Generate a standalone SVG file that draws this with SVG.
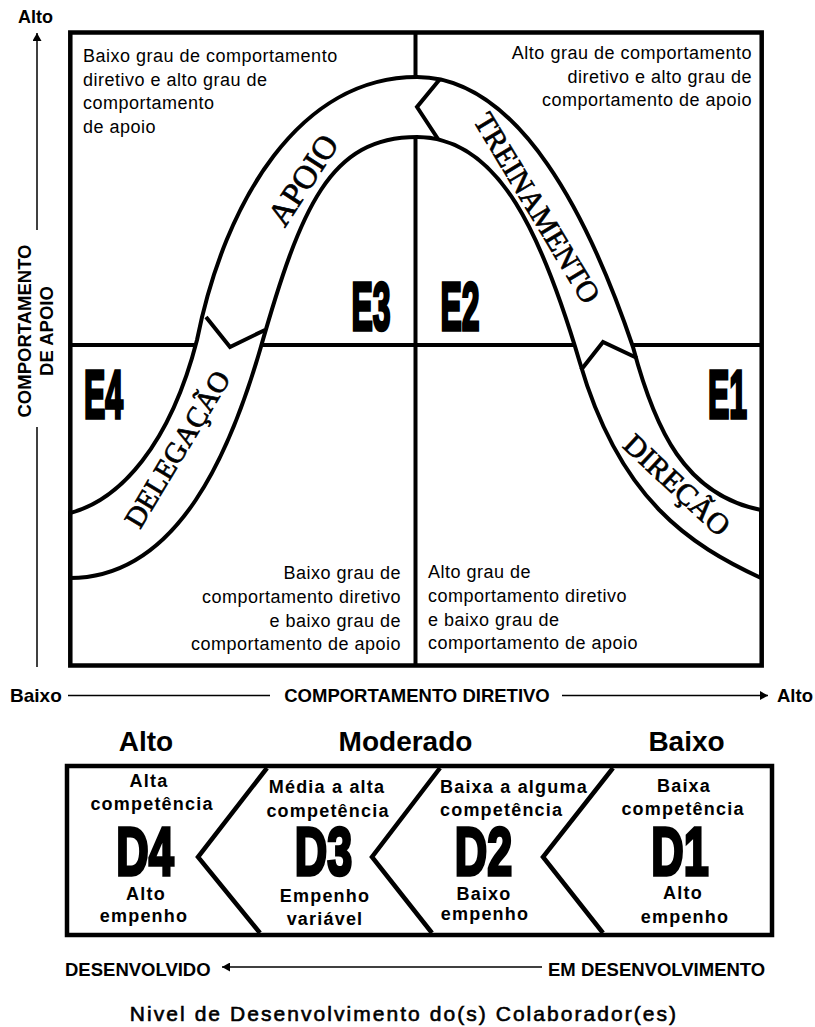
<svg xmlns="http://www.w3.org/2000/svg" width="815" height="1027" viewBox="0 0 815 1027">
<style>
.q{font-family:"Liberation Sans",Arial,sans-serif;font-size:18px;letter-spacing:0.5px;fill:#000}
.bt{font-family:"Liberation Serif","Times New Roman",serif;font-size:30px;fill:#000;stroke:#000;stroke-width:0.7}
.big{font-family:"Liberation Sans",Arial,sans-serif;font-weight:bold;font-size:68px;fill:#000;stroke:#000;stroke-width:3.5;stroke-linejoin:miter}
.ax{font-family:"Liberation Sans",Arial,sans-serif;font-weight:bold;font-size:18.5px;fill:#000}
.bx{font-family:"Liberation Sans",Arial,sans-serif;font-weight:bold;font-size:18px;letter-spacing:1.2px;fill:#000}
.lv{font-family:"Liberation Sans",Arial,sans-serif;font-weight:bold;font-size:28px;fill:#000}
.ti{font-family:"Liberation Sans",Arial,sans-serif;font-size:21px;letter-spacing:2.05px;fill:#000;stroke:#000;stroke-width:0.6}
.thick{fill:none;stroke:#000;stroke-width:4.5}
.mid{fill:none;stroke:#000;stroke-width:4}
.thin{fill:none;stroke:#000;stroke-width:1.5}
</style>
<defs>
<marker id="ah" markerUnits="userSpaceOnUse" markerWidth="9" markerHeight="9" refX="8" refY="4.5" orient="auto">
<path d="M0,0 L8,4.5 L0,9 Z" fill="#000"/>
</marker>
</defs>
<rect width="815" height="1027" fill="#fff"/>

<g id="quadrant-lines">
<line class="mid" x1="415.5" y1="32" x2="415.5" y2="665"/>
<line class="mid" x1="70" y1="345" x2="762" y2="345"/>
</g>

<g id="quadrant-texts">
<g id="q-top-left">
<text class="q" x="83" y="62">Baixo grau de comportamento</text>
<text class="q" x="83" y="86">diretivo e alto grau de</text>
<text class="q" x="83" y="109">comportamento</text>
<text class="q" x="83" y="133">de apoio</text>
</g>
<g id="q-top-right" text-anchor="end">
<text class="q" x="752" y="59">Alto grau de comportamento</text>
<text class="q" x="752" y="83">diretivo e alto grau de</text>
<text class="q" x="752" y="106">comportamento de apoio</text>
</g>
<g id="q-bottom-left" text-anchor="end">
<text class="q" x="401" y="579">Baixo grau de</text>
<text class="q" x="401" y="603">comportamento diretivo</text>
<text class="q" x="401" y="627">e baixo grau de</text>
<text class="q" x="401" y="650">comportamento de apoio</text>
</g>
<g id="q-bottom-right">
<text class="q" x="428" y="578">Alto grau de</text>
<text class="q" x="428" y="602">comportamento diretivo</text>
<text class="q" x="428" y="626">e baixo grau de</text>
<text class="q" x="428" y="649">comportamento de apoio</text>
</g>
</g>

<g id="curve-band">
<path d="M70,513 C120,500 170,445 197,340 C225,200 300,77 417,77 C520,77 590,220 633,347 C655,430 685,495 761,510 L761,578 C690,545 620,500 580,363 C543,238 500,137 417,137 C330,137 301,206 260,350 C232,446 180,578 70,578 Z" fill="#fff" stroke="#000" stroke-width="4"/>
<polyline class="mid" points="440,79 417,107 438,139"/>
<polyline class="mid" points="206,317 230,347 265,330"/>
<polyline class="mid" points="581,370 603,342 637,358"/>
<text class="bt" style="font-size:33px" transform="translate(303,180) rotate(-57)" text-anchor="middle" y="11">APOIO</text>
<text class="bt" transform="translate(537,208) rotate(59)" text-anchor="middle" y="10">TREINAMENTO</text>
<text class="bt" transform="translate(677,485) rotate(43)" text-anchor="middle" y="10">DIREÇÃO</text>
<text class="bt" style="font-size:29px" transform="translate(177,449) rotate(-59)" text-anchor="middle" y="10">DELEGAÇÃO</text>
</g>

<g id="style-labels">
<text class="big" transform="translate(371,330.3) scale(0.47,1)" text-anchor="middle">E3</text>
<text class="big" transform="translate(460,330.3) scale(0.47,1)" text-anchor="middle">E2</text>
<text class="big" transform="translate(103.5,418.3) scale(0.47,1)" text-anchor="middle">E4</text>
<text class="big" transform="translate(727.5,418.3) scale(0.47,1)" text-anchor="middle">E1</text>
</g>

<rect id="main-frame" class="thick" x="70.3" y="32.5" width="691.4" height="633"/>

<g id="connectors">
<line class="thin" x1="37" y1="230" x2="37" y2="33" marker-end="url(#ah)"/>
<line class="thin" x1="37" y1="427" x2="37" y2="667"/>
<line class="thin" x1="68" y1="695.5" x2="270" y2="695.5"/>
<line class="thin" x1="562" y1="695.5" x2="768" y2="695.5" marker-end="url(#ah)"/>
<line class="thin" x1="542" y1="967" x2="222" y2="967" marker-end="url(#ah)"/>
</g>

<g id="axis-labels">
<text class="ax" x="35.5" y="22.5" text-anchor="middle" style="font-size:18px">Alto</text>
<text class="ax" transform="translate(30.5,331) rotate(-90)" text-anchor="middle">COMPORTAMENTO</text>
<text class="ax" transform="translate(53,331) rotate(-90)" text-anchor="middle">DE APOIO</text>
<text class="ax" x="10" y="702" style="font-size:19px">Baixo</text>
<text class="ax" x="417" y="702" text-anchor="middle">COMPORTAMENTO DIRETIVO</text>
<text class="ax" x="777" y="702">Alto</text>
</g>

<g id="levels">
<text class="lv" x="146" y="751" text-anchor="middle">Alto</text>
<text class="lv" x="405.5" y="751" text-anchor="middle">Moderado</text>
<text class="lv" x="686.5" y="751" text-anchor="middle">Baixo</text>
</g>

<g id="dev-box">
<rect class="thick" x="67" y="766" width="705" height="169"/>
<polyline class="thick" points="267,768 198,857 260,933"/>
<polyline class="thick" points="440,768 372,857 432,933"/>
<polyline class="thick" points="613,768 543,857 603,933"/>
</g>

<g id="D4" text-anchor="middle">
<text class="bx" x="149" y="787">Alta</text>
<text class="bx" x="152" y="810">competência</text>
<text class="big" transform="translate(145,875.3) scale(0.66,1)">D4</text>
<text class="bx" x="146" y="900">Alto</text>
<text class="bx" x="144" y="922">empenho</text>
</g>
<g id="D3" text-anchor="middle">
<text class="bx" x="327" y="793">Média a alta</text>
<text class="bx" x="328" y="817">competência</text>
<text class="big" transform="translate(323.5,875.3) scale(0.66,1)">D3</text>
<text class="bx" x="325" y="902">Empenho</text>
<text class="bx" x="325" y="925">variável</text>
</g>
<g id="D2">
<text class="bx" x="440" y="793">Baixa a alguma</text>
<text class="bx" x="440" y="816">competência</text>
<text class="big" transform="translate(483.5,875.3) scale(0.66,1)" text-anchor="middle">D2</text>
<text class="bx" x="484" y="900" text-anchor="middle">Baixo</text>
<text class="bx" x="485" y="920" text-anchor="middle">empenho</text>
</g>
<g id="D1" text-anchor="middle">
<text class="bx" x="684" y="792">Baixa</text>
<text class="bx" x="683" y="815">competência</text>
<text class="big" transform="translate(680,875.3) scale(0.66,1)">D1</text>
<text class="bx" x="683" y="899">Alto</text>
<text class="bx" x="685" y="923">empenho</text>
</g>

<g id="dev-axis">
<text class="ax" x="65" y="976">DESENVOLVIDO</text>
<text class="ax" x="548" y="976">EM DESENVOLVIMENTO</text>
<text class="ti" x="404" y="1021" text-anchor="middle">Nivel de Desenvolvimento do(s) Colaborador(es)</text>
</g>
</svg>
